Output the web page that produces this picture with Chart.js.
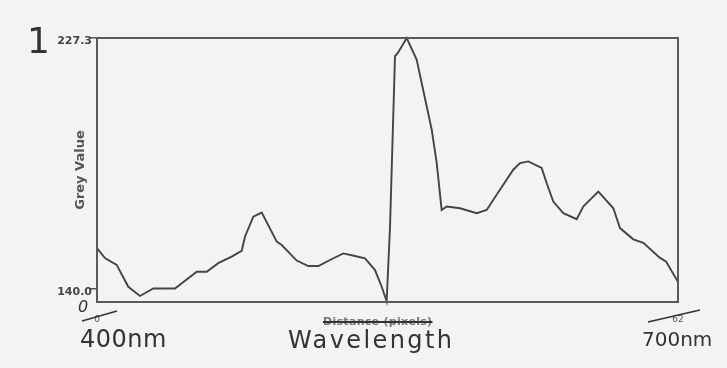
<!DOCTYPE html>
<html>
<head>
<meta charset="utf-8">
<script src="https://cdn.jsdelivr.net/npm/chart.js@4.4.1/dist/chart.umd.min.js"></script>
<style>
  html,body{margin:0;padding:0;background:#f3f3f1;}
  #wrap{position:relative;width:727px;height:368px;overflow:hidden;}
  canvas{position:absolute;left:0;top:0;}
  .t{position:absolute;white-space:nowrap;color:#333;font-family:"DejaVu Sans",sans-serif;line-height:1;}
  svg{position:absolute;left:0;top:0;}
</style>
</head>
<body>
<div id="wrap">
  <canvas id="c" width="727" height="368"></canvas>
  <svg width="727" height="368">
    <line x1="82" y1="321" x2="117" y2="311" stroke="#333" stroke-width="1.4"/>
    <line x1="648" y1="322" x2="700" y2="310" stroke="#333" stroke-width="1.4"/>
  </svg>
  <div class="t" style="left:27px;top:23px;font-size:36px;">1</div>
  <div class="t" style="left:78px;top:299px;font-size:16px;font-style:italic;">0</div>
  <div class="t" style="left:323px;top:316px;font-size:11px;font-weight:bold;color:#777;text-decoration:line-through;text-decoration-color:#333;text-decoration-thickness:2px;letter-spacing:0.3px;">Distance (pixels)</div>
  <div class="t" style="left:80px;top:327px;font-size:24px;letter-spacing:0.5px;">400nm</div>
  <div class="t" style="left:288px;top:328px;font-size:24px;letter-spacing:2.4px;">Wavelength</div>
  <div class="t" style="left:642px;top:329px;font-size:20px;">700nm</div>
</div>
<script>
const distance = [0,0.85,2.1,3.34,4.59,6.01,8.32,10.64,11.71,12.94,14.37,15.44,15.79,16.68,17.58,19.18,19.71,21.31,22.55,23.62,24.86,26.28,27.53,28.6,29.67,30.38,30.91,31.27,31.8,32.12,33.05,34.11,35.72,36.25,36.78,37.32,38.74,40.52,41.58,43.0,44.42,45.14,46.02,47.45,47.99,48.69,49.76,51.19,51.89,52.79,53.5,55.1,55.81,57.23,58.3,60.02,60.74,62];
const greyValue = [154.2,150.8,148.4,140.8,137.6,140.2,140.2,146.0,146.0,149.0,151.3,153.3,158.2,165.2,166.6,156.5,155.3,149.9,148.0,148.0,150.1,152.4,151.5,150.7,146.6,140.8,135.8,161.7,221.0,222.2,227.3,219.8,195.4,183.9,167.5,168.7,168.1,166.4,167.5,174.5,181.5,183.8,184.4,182.1,176.8,170.4,166.4,164.3,168.7,171.6,173.9,168.1,161.2,157.3,156.1,151.0,149.5,142.5];
const yTicks = [140.0, 227.3];
const xTicks = [0, 62];

const points = distance.map((d, i) => ({x: d, y: greyValue[i]}));

const frame = {
  id: 'frame',
  afterDatasetsDraw(chart) {
    const a = chart.chartArea, ctx = chart.ctx;
    ctx.save();
    ctx.strokeStyle = '#5a5a5a';
    ctx.lineWidth = 2;
    ctx.strokeRect(a.left, a.top, a.right - a.left, a.bottom - a.top);
    ctx.restore();
  }
};

new Chart(document.getElementById('c'), {
  type: 'line',
  data: {
    datasets: [{
      data: points,
      borderColor: '#444',
      borderWidth: 1.9,
      pointRadius: 0,
      tension: 0,
      fill: false,
      clip: false
    }]
  },
  options: {
    responsive: false,
    animation: false,
    events: [],
    layout: {padding: {left: 0, top: 38, right: 49, bottom: 0}},
    plugins: {legend: {display: false}, tooltip: {enabled: false}},
    scales: {
      x: {
        type: 'linear',
        min: 0, max: 62,
        afterBuildTicks: s => { s.ticks = xTicks.map(v => ({value: v})); },
        afterFit: s => { s.height = 66; },
        grid: {display: false, drawTicks: false},
        border: {display: false},
        ticks: {
          padding: 12,
          color: '#555',
          font: {family: 'DejaVu Sans', size: 9},
          maxRotation: 0,
          callback: v => String(v)
        }
      },
      y: {
        min: 135.5, max: 227.3,
        afterBuildTicks: s => { s.ticks = yTicks.map(v => ({value: v})); },
        afterFit: s => { s.width = 97; },
        grid: {display: true, drawOnChartArea: false, drawTicks: true, tickLength: 8, color: '#555', lineWidth: 1.5},
        border: {display: false},
        ticks: {
          padding: -3,
          labelOffset: 3,
          color: '#444',
          font: {family: 'DejaVu Sans', size: 11, weight: 'bold'},
          callback: v => Number(v).toFixed(1)
        },
        title: {
          display: true,
          text: 'Grey Value',
          color: '#555',
          font: {family: 'DejaVu Sans', size: 13, weight: 'bold'},
          padding: {top: 73, bottom: 0}
        }
      }
    }
  },
  plugins: [frame]
});
</script>
</body>
</html>
